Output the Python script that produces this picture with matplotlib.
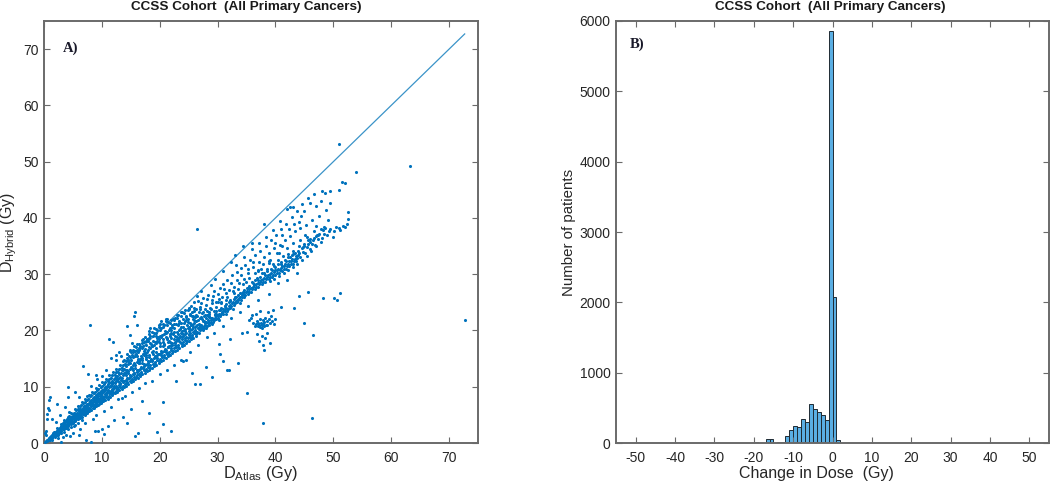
import numpy as np
import matplotlib
matplotlib.use("Agg")
import matplotlib.pyplot as plt

plt.rcParams['font.family'] = ['Liberation Sans', 'DejaVu Sans']
plt.rcParams['mathtext.fontset'] = 'custom'
plt.rcParams['mathtext.rm'] = 'Liberation Sans'
plt.rcParams['axes.unicode_minus'] = False

# Panel A, points (D atlas, D hybrid)
lower_band = [
    (0.2,0.1),(0.4,0.3),(0.6,0.3),(0.8,0.6),(1.0,0.6),(1.2,0.9),(1.4,0.9),(1.6,1.2),(1.8,1.2),(2.0,1.5),
    (2.2,1.5),(2.4,1.8),(2.6,1.8),(2.8,2.1),(3.0,2.1),(3.2,2.4),(3.4,2.4),(3.6,2.7),(3.8,2.7),(4.0,3.0),
    (4.2,3.0),(4.4,3.3),(4.6,3.3),(4.8,3.6),(5.0,3.6),(5.2,3.9),(5.4,3.9),(5.6,4.2),(5.8,4.2),(6.0,4.5),
    (6.2,4.4),(6.4,4.8),(6.6,4.7),(6.8,5.1),(7.0,5.0),(7.2,5.4),(7.4,5.3),(7.6,5.7),(7.8,5.6),(8.0,6.0),
    (8.2,5.9),(8.4,6.3),(8.6,6.2),(8.8,6.6),(9.0,6.5),(9.2,6.9),(9.4,6.8),(9.6,7.2),(9.8,7.1),(10.0,7.5),
    (10.2,7.4),(10.4,7.8),(10.6,7.6),(10.8,8.1),(11.0,7.9),(11.2,8.4),(11.4,8.2),(11.6,8.7),(11.8,8.5),(12.0,9.0),
    (12.2,8.8),(12.4,9.3),(12.6,9.1),(12.8,9.6),(13.0,9.4),(13.2,9.9),(13.4,9.6),(13.6,10.2),(13.8,9.9),(14.0,10.5),
    (14.2,10.2),(14.4,10.8),(14.6,10.5),(14.8,11.1),(15.0,10.8),(15.2,11.4),(15.4,11.1),(15.6,11.7),(15.8,11.3),(16.0,12.0),
    (16.2,11.6),(16.4,12.3),(16.6,11.9),(16.8,12.6),(17.0,12.2),(17.2,12.9),(17.4,12.5),(17.6,13.2),(17.8,12.8),(18.0,13.5),
    (18.2,13.0),(18.4,13.8),(18.6,13.3),(18.8,14.1),(19.0,13.6),(19.2,14.4),(19.4,13.9),(19.6,14.7),(19.8,14.2),(20.0,15.0),
    (20.2,14.5),(20.4,15.3),(20.6,14.8),(20.8,15.6),(21.0,15.1),(21.2,15.9),(21.4,15.4),(21.6,16.2),(21.8,15.7),(22.0,16.5),
    (22.2,16.0),(22.4,16.8),(22.6,16.3),(22.8,17.1),(23.0,16.6),(23.2,17.4),(23.4,16.9),(23.6,17.7),(23.8,17.2),(24.0,18.0),
    (24.2,17.5),(24.4,18.3),(24.6,17.8),(24.8,18.6),(25.0,18.1),(25.2,18.9),(25.4,18.4),(25.6,19.2),(25.8,18.7),(26.0,19.5),
    (26.2,19.0),(26.5,19.8),(26.8,19.5),(27.1,20.3),(27.4,20.0),(27.7,20.8),(28.0,20.5),(28.3,21.3),(28.6,21.0),(28.9,21.8),
    (29.2,21.5),(29.5,22.3),(29.8,22.0),(30.1,22.8),(30.4,22.5),(30.7,23.3),(31.0,23.0),(31.3,23.8),(31.6,23.5),(31.9,24.3),
    (32.2,24.0),(32.5,24.8),(32.8,24.5),(33.1,25.3),(33.4,25.0),(33.7,25.8),(34.0,25.5),(34.3,26.3),(34.6,25.9),(34.9,26.8),
    (35.2,26.4),(35.5,27.3),(35.8,26.9),(36.1,27.8),(36.4,27.4),(36.7,28.2),(37.0,27.8),(37.3,28.7),(37.6,28.3),(37.9,29.1),
    (38.2,28.7),(38.5,29.5),(38.8,29.1),(39.1,30.0),(39.4,29.5),(39.7,30.4),(40.0,29.9),(40.3,30.7),(40.6,30.3),(40.9,31.1),
    (41.2,30.6),(41.5,31.5),(41.8,31.0),(42.1,31.9),(42.4,31.4),(42.7,32.3),(43.0,31.8),(43.3,32.7),(43.6,32.4),(43.9,33.4),
    (44.3,33.0),(44.7,34.0),(45.1,33.8),(45.5,34.8),(45.9,34.5),(46.3,35.4),(46.8,35.2),(47.3,36.2),(47.8,35.8),(48.4,37.2),
    (48.9,36.9),(49.5,38.0),(50.2,37.6),(51.0,38.2),(51.6,38.6),
]
upper_band = [
    (0.5,0.5),(0.9,0.9),(1.1,1.1),(1.3,0.6),(1.5,1.5),(1.7,1.6),(1.9,1.0),(2.1,2.0),(2.3,2.2),(2.5,1.4),
    (2.7,2.6),(2.9,1.7),(3.1,2.9),(3.3,3.1),(3.5,2.0),(3.7,3.4),(3.9,3.7),(4.1,2.5),(4.3,4.0),(4.5,4.3),
    (4.7,2.8),(4.9,4.6),(5.1,4.9),(5.3,3.2),(5.5,5.2),(5.7,5.4),(5.9,3.6),(6.1,5.7),(6.3,6.0),(6.5,4.0),
    (6.7,6.3),(6.9,6.6),(7.1,5.9),(7.3,6.8),(7.5,7.0),(7.7,6.3),(7.9,7.4),(8.1,7.7),(8.3,6.9),(8.5,8.0),
    (8.7,8.2),(8.9,7.5),(9.1,8.5),(9.3,8.8),(9.5,7.9),(9.7,9.1),(9.9,9.3),(10.1,8.4),(10.3,9.6),(10.5,9.9),
    (10.7,8.9),(10.9,10.2),(11.1,10.4),(11.3,9.3),(11.5,10.7),(11.7,11.0),(11.9,9.8),(12.1,11.3),(12.3,11.6),(12.5,10.2),
    (12.7,11.9),(12.9,12.2),(13.1,10.7),(13.3,12.5),(13.5,12.9),(13.7,11.1),(13.9,13.2),(14.1,13.6),(14.3,11.6),(14.5,14.0),
    (14.7,14.4),(14.9,12.0),(15.1,14.8),(15.3,15.2),(15.5,12.5),(15.7,15.5),(15.9,15.9),(16.1,13.0),(16.3,16.2),(16.5,16.6),
    (16.7,13.5),(16.9,16.9),(17.1,17.2),(17.3,14.0),(17.5,16.7),(17.7,17.5),(17.9,14.5),(18.1,17.0),(18.3,17.8),(18.5,15.0),
    (18.7,17.3),(18.9,18.2),(19.1,15.5),(19.3,17.7),(19.5,18.6),(19.7,15.9),(19.9,18.0),(20.1,19.0),(20.3,16.3),(20.5,18.4),
    (20.7,19.3),(20.9,16.7),(21.1,18.8),(21.3,19.7),(21.5,17.0),(21.7,19.0),(21.9,20.1),(22.1,17.4),(22.3,19.4),(22.5,20.4),
    (22.7,17.8),(22.9,19.8),(23.1,20.9),(23.3,18.2),(23.5,20.2),(23.7,21.3),(23.9,18.5),(24.1,20.6),(24.3,21.7),(24.5,18.9),
    (24.7,21.0),(24.9,22.1),(25.1,19.3),(25.3,21.4),(25.5,22.5),(25.7,19.7),(25.9,21.8),(26.1,20.1),(26.3,22.8),(26.6,20.4),
    (26.9,22.2),(27.2,20.9),(27.5,23.2),(27.8,21.3),(28.1,22.8),(28.4,21.8),(28.7,24.0),(29.0,22.2),(29.3,23.4),(29.6,22.7),
    (6.4,5.1),(7.0,5.6),(7.6,6.0),(8.2,6.5),(8.8,7.0),(9.4,7.4),(10.0,8.0),(10.6,8.4),(11.2,8.9),(11.8,9.3),
    (12.4,9.8),(13.0,10.3),(13.6,10.8),(14.2,11.2),(14.8,11.7),(15.4,12.2),(16.0,12.7),(16.6,13.2),(17.2,13.6),(17.8,14.1),
    (18.4,14.6),(19.0,15.1),(19.6,15.6),(20.2,16.0),(20.8,16.4),(21.4,17.0),(22.0,17.5),(22.6,17.9),(23.2,18.4),(23.8,18.9),
    (24.4,19.4),(25.0,19.9),(25.6,20.3),(26.2,20.8),(26.8,21.2),(27.4,21.7),(28.0,22.2),(28.6,22.6),
]
# the filled fan between the lower band and the diagonal
dense_fill = [
    (1.2,1.3),(1.8,1.9),(2.4,2.5),(2.6,2.2),(3.0,2.8),(3.2,3.5),(3.4,2.9),(3.8,3.2),(4.0,4.2),(4.2,3.6),
    (4.4,4.8),(4.6,3.9),(4.8,4.2),(5.0,5.2),(5.2,4.5),(5.4,4.7),(5.6,5.8),(5.8,5.0),(6.0,5.2),(6.2,6.5),
    (6.4,5.6),(6.6,6.0),(6.8,7.1),(7.0,6.2),(7.2,6.5),(7.4,7.6),(7.6,6.8),(7.8,7.0),(8.0,8.3),(8.2,7.3),
    (8.4,7.6),(8.6,8.8),(8.8,7.9),(9.0,8.1),(9.2,9.4),(9.4,8.4),(9.6,8.7),(9.8,10.0),(10.0,8.8),(10.2,9.1),
    (10.4,10.5),(10.6,9.4),(10.8,9.7),(11.0,11.0),(11.2,9.9),(11.4,10.2),(11.6,11.6),(11.8,10.5),(12.0,10.8),(12.2,12.1),
    (12.4,11.0),(12.6,11.3),(12.8,12.7),(13.0,11.5),(13.2,11.8),(13.4,13.4),(13.6,12.1),(13.8,12.4),(14.0,14.1),(14.2,12.6),
    (14.4,13.0),(14.6,14.7),(14.8,13.1),(15.0,13.5),(15.2,15.7),(15.4,13.8),(15.6,14.2),(15.8,16.3),(16.0,14.4),(16.2,14.8),
    (16.4,16.9),(16.6,15.0),(16.8,15.4),(17.0,17.8),(17.2,15.6),(17.4,16.0),(17.6,18.2),(17.8,16.2),(18.0,16.6),(18.2,18.6),
    (18.4,16.8),(18.6,17.2),(18.8,19.1),(19.0,17.4),(19.2,17.9),(19.4,19.6),(19.6,18.1),(19.8,18.5),(20.0,20.1),(20.2,18.8),
    (20.4,19.2),(20.6,20.6),(20.8,17.6),(21.0,19.6),(21.2,21.0),(21.4,18.0),(21.6,20.0),(21.8,21.4),(22.0,18.6),(22.2,20.6),
    (22.4,21.8),(22.6,19.1),(22.8,21.2),(23.0,22.2),(23.2,19.4),(23.4,21.6),(23.6,22.6),(23.8,19.9),(24.0,22.0),(24.2,23.1),
    (24.4,20.2),(24.6,22.4),(24.8,23.6),(25.0,20.5),(25.2,22.8),(25.4,20.9),(25.6,23.2),(25.8,21.2),(26.0,23.5),(26.2,21.6),
    (1.4,1.1),(2.0,1.8),(2.6,2.4),(3.4,3.3),(4.6,4.6),(5.2,5.4),(5.8,6.0),(6.4,6.8),(7.0,7.3),(7.6,7.8),
    (8.2,8.5),(8.8,9.0),(9.4,9.6),(10.0,10.2),(10.6,10.9),(11.2,11.4),(11.8,12.0),(12.4,12.6),(13.0,13.2),(13.6,13.8),
    (14.2,14.5),(14.8,15.2),(15.4,16.1),(16.0,16.6),(16.6,17.2),(17.2,17.9),(17.8,18.5),(18.4,19.0),(19.0,19.5),(19.6,20.0),
    (20.2,20.5),(20.8,21.0),(21.4,21.5),(22.0,21.9),(22.6,22.3),(23.2,22.7),(23.8,23.2),(24.4,23.6),(25.0,24.0),
    (3.0,2.5),(3.6,3.0),(4.2,3.3),(4.8,3.9),(5.4,4.4),(6.0,4.9),(6.6,5.3),(7.2,5.8),(7.8,6.3),(8.4,6.7),
    (9.0,7.2),(9.6,7.7),(10.2,8.2),(10.8,8.6),(11.4,9.1),(12.0,9.6),(12.6,10.0),(13.2,10.5),(13.8,11.0),(14.4,11.4),
    (15.0,11.9),(15.6,12.4),(16.2,12.9),(16.8,13.4),(17.4,13.9),(18.0,14.3),(18.6,14.8),(19.2,15.3),(19.8,15.8),(20.4,16.2),
    (21.0,16.6),(21.6,17.2),(22.2,17.7),(22.8,18.1),(23.4,18.6),(24.0,19.1),(24.6,19.6),(25.2,20.1),(25.8,20.6),(26.4,21.0),
    (14.3,15.8),(14.9,16.6),(15.5,17.2),(16.1,17.6),(15.1,16.2),(13.9,14.8),(16.9,18.3),(17.5,18.9),(18.1,19.4),(18.7,19.8),
    (19.3,20.3),(19.9,20.7),(20.5,21.2),(21.1,21.6),(21.7,20.5),(22.3,22.0),(23.5,19.0),(24.3,19.9),(25.1,20.7),(26.1,22.4),
    (26.7,23.3),(27.3,22.0),(27.9,23.9),(28.5,22.4),(29.1,24.8),(29.7,23.0),(30.3,25.6),(30.9,23.8),(31.5,25.4),(27.0,23.8),
    (16.4,14.2),(17.0,14.8),(17.6,15.2),(18.2,15.7),(18.8,16.3),(19.4,16.8),(20.0,17.2),(20.6,17.9),(21.2,18.4),(21.8,19.3),
    (22.4,18.4),(23.0,18.9),(23.6,19.5),(24.2,20.0),(24.8,20.5),(25.4,21.0),(26.0,21.4),(26.6,21.8),(27.2,22.4),(27.8,22.7),
]
# second pass over the fan, the gaps the first pass left open
fan_gaps = [
    (2.1,1.6),(2.8,2.4),(3.3,2.6),(3.7,2.9),(4.3,3.5),(4.7,3.7),(5.3,4.1),(5.7,4.6),(6.3,4.7),(6.7,5.5),
    (7.1,5.3),(7.5,6.2),(7.9,6.0),(8.3,6.9),(8.7,6.4),(9.1,7.4),(9.5,7.0),(9.9,8.0),(10.3,7.7),(10.7,8.7),
    (11.1,8.2),(11.5,9.3),(11.9,8.9),(12.3,9.9),(12.7,9.4),(13.1,10.4),(13.5,10.0),(13.9,11.1),(14.3,10.6),(14.7,11.6),
    (15.1,11.2),(15.5,12.2),(15.9,11.8),(16.3,12.8),(16.7,12.3),(17.1,13.3),(17.5,12.9),(17.9,13.9),(18.3,13.4),(18.7,14.5),
    (19.1,14.0),(19.5,15.1),(19.9,14.6),(20.3,15.7),(20.7,15.2),(21.1,16.2),(21.5,15.8),(21.9,16.8),(22.3,16.4),(22.7,17.4),
    (23.1,17.0),(23.5,17.9),(23.9,17.6),(24.3,18.6),(24.7,18.2),(25.1,19.2),(25.5,18.8),(25.9,19.8),(26.3,19.4),(26.7,20.5),
    (4.1,3.9),(4.9,4.4),(5.5,4.8),(6.1,5.4),(6.5,5.9),(6.9,6.1),(7.3,6.1),(7.7,7.1),(8.1,6.7),(8.5,7.3),
    (8.9,8.5),(9.3,7.8),(9.7,8.3),(10.1,9.5),(10.5,8.7),(10.9,9.0),(11.3,10.8),(11.7,9.6),(12.1,10.1),(12.5,11.7),
    (12.9,10.8),(13.3,11.2),(13.7,13.0),(14.1,12.0),(14.5,12.4),(14.9,14.2),(15.3,12.9),(15.7,13.3),(16.1,15.4),(16.5,14.3),
    (16.9,14.2),(17.3,16.3),(17.7,14.9),(18.1,15.3),(18.5,17.6),(18.9,15.8),(19.3,16.2),(19.7,18.9),(20.1,17.7),(20.5,17.2),
    (20.9,19.9),(21.3,18.6),(21.7,17.9),(22.1,20.9),(22.5,19.7),(22.9,18.5),(23.3,21.4),(23.7,20.6),(24.1,19.4),(24.5,21.9),
    (24.9,21.5),(25.3,19.6),(25.7,22.1),(26.1,20.7),(26.5,22.6),(26.9,20.8),(27.3,23.1),(27.7,21.7),(28.1,23.5),(28.5,23.0),
    (2.2,2.7),(2.9,3.3),(3.5,4.1),(4.1,4.7),(4.7,5.4),(5.3,6.0),(5.9,6.6),(6.5,7.2),(7.1,7.9),(7.7,8.5),
    (8.3,9.1),(8.9,9.8),(9.5,10.3),(10.1,10.9),(10.7,11.4),(11.3,12.0),(11.9,12.6),(12.5,13.2),(13.1,13.9),(13.7,14.5),
    (14.3,15.1),(14.7,15.5),(15.3,16.5),(15.9,17.0),(16.5,17.6),(17.1,18.4),(18.2,19.9),(19.0,20.4),(20.0,21.1),(21.0,22.0),
    (1.0,0.9),(1.4,1.4),(1.6,1.7),(2.4,2.0),(3.0,3.0),(3.6,3.3),(3.8,3.9),(4.4,4.0),(5.0,4.6),(5.6,5.1),
    (6.2,5.4),(6.8,5.8),(7.4,6.6),(8.0,7.1),(8.6,7.7),(9.2,8.0),(9.8,8.6),(10.4,9.2),(11.0,9.5),(11.6,10.1),
    (12.2,10.6),(12.8,11.1),(13.4,11.6),(14.0,12.2),(14.6,12.8),(15.2,13.4),(15.8,13.9),(16.4,14.6),(17.0,15.1),(17.6,15.7),
]
# the tight ridge from 26 Gy up
ridge = [
    (26.3,19.7),(26.7,20.2),(27.0,20.0),(27.3,20.6),(27.6,20.4),(27.9,21.0),(28.2,20.8),(28.5,21.5),(28.8,21.4),(29.1,22.0),
    (29.4,21.9),(29.7,22.5),(30.0,22.3),(30.3,23.0),(30.6,22.9),(30.9,23.5),(31.2,23.4),(31.5,24.0),(31.8,23.9),(32.1,24.5),
    (32.4,24.4),(32.7,25.0),(33.0,24.9),(33.3,25.5),(33.6,25.4),(33.9,26.0),(34.2,25.9),(34.5,26.5),(34.8,26.3),(35.1,27.0),
    (35.4,26.8),(35.7,27.5),(36.0,27.3),(36.3,28.0),(36.6,27.8),(36.9,28.5),(37.2,28.2),(37.5,29.0),(37.8,28.7),(38.1,29.4),
    (38.4,29.1),(38.7,29.8),(39.0,29.5),(39.3,30.3),(39.6,29.9),(39.9,30.7),(40.2,30.3),(40.5,31.0),(40.8,30.7),(41.1,31.5),
    (41.4,31.0),(41.7,31.9),(42.0,31.5),(42.3,32.3),(42.6,31.9),(42.9,32.7),(43.2,32.3),(43.5,33.2),(43.8,32.9),(44.1,33.8),
    (38.0,30.2),(38.6,30.6),(39.2,31.0),(39.8,31.4),(40.4,31.8),(41.0,32.2),(41.6,32.6),(42.2,33.0),(42.8,33.4),(43.4,33.8),
    (37.0,29.0),(36.2,28.5),(35.4,27.9),(34.6,27.2),(33.8,26.6),(33.0,26.0),(32.2,25.4),(31.4,24.7),(30.6,24.0),(29.8,23.4),
    (39.0,28.8),(39.8,29.2),(40.6,29.7),(41.4,30.2),(42.2,30.7),(43.0,31.2),(43.8,31.8),(44.6,32.6),(45.4,33.2),(46.2,34.2),
    (44.5,34.6),(45.0,35.0),(45.6,35.4),(46.0,35.8),(46.6,36.4),(47.0,36.8),(47.6,37.2),(48.2,37.8),(47.0,35.0),(48.0,36.4),
    (28.0,21.5),(28.8,22.3),(29.6,23.0),(30.4,23.6),(31.2,24.3),(32.0,25.0),(32.8,25.6),(33.6,26.3),(34.4,26.9),(35.2,27.6),
    (36.5,28.9),(37.3,29.5),(38.2,29.9),(39.4,30.8),(40.0,31.2),(40.9,31.9),(41.8,32.4),(42.5,33.1),(43.1,33.6),(43.9,34.1),
    (44.8,34.9),(45.7,36.0),(46.5,36.0),(47.4,36.9),(48.6,38.2),(29.0,21.2),(30.2,21.9),(31.4,22.9),(32.6,23.9),(33.8,24.8),
]
upper_spread = [
    (12.5,14.7),(13.3,15.4),(14.1,13.0),(14.9,16.4),(15.5,14.1),(16.3,15.0),(17.1,15.9),(17.9,18.1),(18.3,20.5),(18.7,16.1),
    (19.3,19.0),(19.9,20.9),(20.3,21.7),(20.7,17.4),(21.2,22.0),(21.6,18.2),(21.9,19.5),(22.4,21.2),(22.9,22.7),(23.3,20.0),
    (23.6,23.2),(24.2,21.4),(24.6,22.6),(25.0,23.8),(25.4,24.3),(25.8,22.5),(26.2,23.9),(26.6,25.2),(27.0,24.2),(27.4,25.8),
    (27.6,22.6),(28.0,24.6),(28.3,26.3),(28.6,23.3),(29.0,25.4),(29.3,27.0),(29.7,24.2),(30.0,26.4),(30.2,23.6),(30.4,27.6),
    (30.6,25.0),(30.9,28.2),(31.2,24.4),(31.4,26.6),(31.7,29.0),(32.0,27.2),(32.2,25.2),(32.5,29.8),(32.8,27.8),(33.1,26.0),
    (33.4,30.4),(33.7,28.4),(34.0,31.1),(34.2,26.6),(34.5,29.2),(34.8,31.6),(35.0,27.6),(35.3,30.2),(35.6,32.6),(35.9,28.6),
    (36.2,31.2),(36.5,33.4),(36.8,29.4),(37.1,32.2),(37.4,34.2),(37.7,30.2),(38.0,33.0),(38.3,35.0),(38.6,31.0),(38.9,33.8),
    (39.2,36.0),(39.5,31.8),(39.8,34.6),(40.1,37.0),(40.4,32.6),(40.7,35.2),(41.0,38.0),(41.3,33.2),(41.6,36.0),(41.9,39.0),
    (42.2,33.6),(42.5,36.8),(42.8,40.2),(43.1,34.2),(43.4,37.6),(43.7,41.2),(44.0,35.0),(44.3,38.2),(44.6,42.4),(44.9,35.4),
    (45.2,38.8),(45.6,43.6),(46.0,36.2),(46.3,39.6),(46.7,44.2),(47.2,37.0),(47.6,40.4),(48.0,44.8),(48.4,38.4),(48.8,41.4),
    (49.2,37.6),(49.5,42.6),(50.0,36.6),(50.4,38.4),(50.9,45.0),(51.2,37.8),(51.5,46.4),(52.0,38.4),(52.3,39.0),(52.6,39.8),
    (33.2,31.6),(34.6,33.0),(36.0,34.4),(37.2,35.6),(38.4,36.6),(39.6,37.8),(40.8,39.4),(42.0,41.6),(43.0,42.0),(44.4,40.4),
    (45.0,41.2),(46.0,42.6),(47.0,42.2),(47.8,43.0),(48.6,44.4),(49.4,44.8),(51.0,53.2),(52.5,41.0),(52.0,46.2),(54.0,48.2),
    (26.0,25.0),(26.4,26.2),(27.2,27.0),(28.8,28.0),(29.6,29.2),(31.0,30.6),(32.4,32.2),(33.0,33.5),(34.4,35.0),(36.0,35.6),
    (38.0,39.0),(42.5,42.0),(42.0,34.6),(41.2,35.0),(40.2,33.8),(39.0,32.5),(37.5,31.0),(36.4,30.2),(35.4,29.4),(34.4,28.2),
    (33.6,27.4),(32.6,27.0),(31.6,26.0),(30.6,24.9),(29.8,25.0),(44.2,36.0),(45.4,36.6),(46.6,37.6),(47.8,38.0),(49.0,39.6),
    (26.5,38.0),(50.1,25.8),(51.2,26.6),(50.6,25.4),(48.2,25.8),(44.0,26.2),(45.6,26.8),(46.4,19.2),(44.9,21.4),
    (27.1,24.8),(28.2,25.6),(29.2,26.1),(30.1,25.1),(31.1,27.4),(32.3,28.4),(33.3,28.9),(34.1,29.9),(35.2,30.9),(36.1,32.1),
    (37.0,30.8),(37.9,31.9),(38.9,32.4),(40.0,35.6),(41.1,36.9),(42.3,38.0),(43.2,38.9),(44.1,39.3),(28.9,23.9),(30.8,26.0),
    (32.9,26.6),(34.9,28.6),(36.9,30.5),(38.8,32.0),(40.6,33.8),(43.0,35.6),(45.1,36.9),(47.0,38.6),(25.2,22.9),(26.0,24.0),
]
lower_scatter = [
    (0.1,1.8),(0.3,1.4),(0.4,2.2),(0.5,4.2),(0.6,5.1),(0.7,6.2),(0.8,5.8),(0.9,7.6),(1.0,8.1),(1.3,4.3),
    (2.0,3.8),(2.3,7.0),(2.8,5.0),(3.4,3.8),(3.6,6.4),(4.1,8.1),(4.1,10.0),(4.4,5.5),(5.4,9.1),(6.0,8.2),
    (6.8,13.7),(7.5,8.4),(7.6,12.2),(8.0,21.0),(8.2,10.2),(8.9,12.0),(9.2,11.4),(10.0,11.9),(10.8,13.0),(11.5,15.1),
    (11.2,18.4),(12.0,17.9),(12.4,15.6),(13.0,16.1),(14.3,20.8),(14.8,19.2),(15.2,17.8),(15.6,22.6),(15.7,23.2),(16.0,21.0),
    (2.5,0.9),(2.9,0.2),(3.2,1.0),(3.8,1.5),(4.5,1.2),(5.0,1.8),(6.0,1.4),(6.3,2.4),(7.2,0.6),(8.1,0.2),
    (8.8,2.1),(9.3,2.1),(10.1,2.5),(10.3,1.6),(11.0,3.1),(12.1,4.0),(13.6,4.6),(14.3,3.5),(15.0,6.0),(15.8,1.3),
    (16.3,1.7),(17.0,7.5),(18.2,5.4),(19.5,1.9),(20.5,3.3),(20.5,7.2),(22.0,2.1),(22.8,11.1),(24.0,14.5),(24.5,14.8),
    (25.5,12.4),(26.1,10.4),(26.9,10.5),(28.0,13.5),(29.0,11.8),(30.5,15.9),(31.0,14.6),(31.6,13.0),(32.0,12.9),(32.2,18.4),
    (33.6,14.2),(35.0,8.8),(37.9,3.6),(46.3,4.5),(39.0,17.8),(43.2,24.0),(41.0,24.2),(34.2,19.5),(36.0,22.8),(30.3,17.6),
    (5.2,3.0),(7.0,3.6),(8.4,4.3),(9.0,5.0),(10.4,5.6),(11.6,6.4),(12.8,7.8),(13.5,8.0),(14.0,8.4),(15.2,9.0),
    (16.4,9.8),(17.4,10.6),(18.6,11.0),(20.0,12.2),(21.2,13.0),(22.4,13.8),(23.6,14.8),(25.2,16.2),(26.6,17.4),(28.2,18.8),
    (29.4,19.6),(31.0,20.8),(32.4,22.2),(33.8,23.2),(35.2,24.4),(37.0,25.4),(38.8,26.4),(40.4,28.4),(42.0,29.0),(43.8,30.2),
]
cluster = [
    (35.8,22.2),(36.2,21.4),(36.4,20.8),(36.6,21.2),(36.8,21.6),(37.0,20.8),(37.0,21.4),(37.2,21.0),(37.3,22.0),(37.4,20.6),
    (37.5,21.4),(37.6,21.0),(37.7,20.5),(37.8,21.8),(37.9,21.2),(38.0,20.8),(38.1,21.5),(38.2,22.2),(38.3,21.0),(38.5,21.6),
    (38.6,20.9),(38.8,22.0),(39.0,21.3),(39.2,22.6),(39.4,21.6),(35.0,19.8),(35.4,21.9),(36.6,23.0),(37.2,18.2),(37.6,19.0),
    (37.9,17.4),(38.2,18.6),(38.5,19.6),(37.4,23.4),(38.7,23.2),(39.5,23.6),(40.0,22.0),(38.0,16.6),(36.8,19.3),(39.8,21.1),
]
outliers = [(63.2, 49.2), (72.7, 21.8)]

identity_end = [0, 72.7]

# Panel B, one Gy bins
hist_centers = [-19.5, -18.5, -16.5, -15.5, -14.5, -13.5, -12.5, -11.5, -10.5, -9.5, -8.5,
                -7.5, -6.5, -5.5, -4.5, -3.5, -2.5, -1.5, -0.5, 0.5, 1.5]
hist_counts = [14, 5, 62, 62, 5, 10, 20, 95, 190, 237, 230, 337, 303, 560, 480, 436, 403, 332, 5860, 2070, 38]

points = np.array(lower_band + upper_band + dense_fill + fan_gaps + ridge + upper_spread + lower_scatter + cluster + outliers)

blue = '#0072BD'
dark = '#262626'
spine = '#6a6a6a'

fig = plt.figure(figsize=(10.5, 4.86), dpi=100)
ax1 = fig.add_axes([44 / 1050, 1 - 443 / 486, 434 / 1050, 422 / 486])
ax2 = fig.add_axes([616 / 1050, 1 - 443 / 486, 433 / 1050, 422 / 486])

ax1.plot(identity_end, identity_end, color='#3a93c8', lw=0.9)
ax1.scatter(points[:, 0], points[:, 1], s=5, color=blue, linewidths=0, zorder=3)
ax1.set_xlim(0, 75)
ax1.set_ylim(0, 75)
ax1.set_xticks(range(0, 71, 10))
ax1.set_yticks(range(0, 71, 10))
ax1.text(3.2, 69.5, 'A)', family=['Liberation Serif'], fontweight='bold', fontsize=10.5, color='#1a1a2a')

ax2.bar(hist_centers, hist_counts, width=1.0, color='#5AAEE3', edgecolor='#1f2a33', linewidth=0.7)
ax2.set_xlim(-55, 55)
ax2.set_ylim(0, 6000)
ax2.set_xticks(range(-50, 51, 10))
ax2.set_yticks(range(0, 6001, 1000))
ax2.text(-51.5, 5620, 'B)', family=['Liberation Serif'], fontweight='bold', fontsize=10.5, color='#1a1a2a')

for ax in (ax1, ax2):
    for s in ax.spines.values():
        s.set_color(spine)
        s.set_linewidth(1.4)
    ax.tick_params(direction='in', top=True, right=True, length=4, width=0.8, color=spine,
                   labelcolor=dark, labelsize=10, pad=4)
    ax.tick_params(axis='x', pad=6)

# labels sit at their own spots in the reference, not centred on the axes
fig.text(131 / 1050, 1 - 7 / 486, 'CCSS Cohort  (All Primary Cancers)', ha='left', va='center',
         fontsize=9.7, fontweight='bold', color='#1a1a1a')
fig.text(715 / 1050, 1 - 7 / 486, 'CCSS Cohort  (All Primary Cancers)', ha='left', va='center',
         fontsize=9.7, fontweight='bold', color='#1a1a1a')
fig.text(261 / 1050, 1 - 473 / 486, r'D$_{\mathrm{Atlas}}$ (Gy)', ha='center', va='center', fontsize=11.8, color=dark)
fig.text(816 / 1050, 1 - 473 / 486, 'Change in Dose  (Gy)', ha='center', va='center', fontsize=11.5, color=dark)
fig.text(9 / 1050, 1 - 232 / 486, r'D$_{\mathrm{Hybrid}}$ (Gy)', rotation=90, ha='center', va='center',
         fontsize=11.5, color=dark)
fig.text(569 / 1050, 1 - 232 / 486, 'Number of patients', rotation=90, ha='center', va='center',
         fontsize=10.8, color=dark)

fig.savefig('out.png', dpi=100)
